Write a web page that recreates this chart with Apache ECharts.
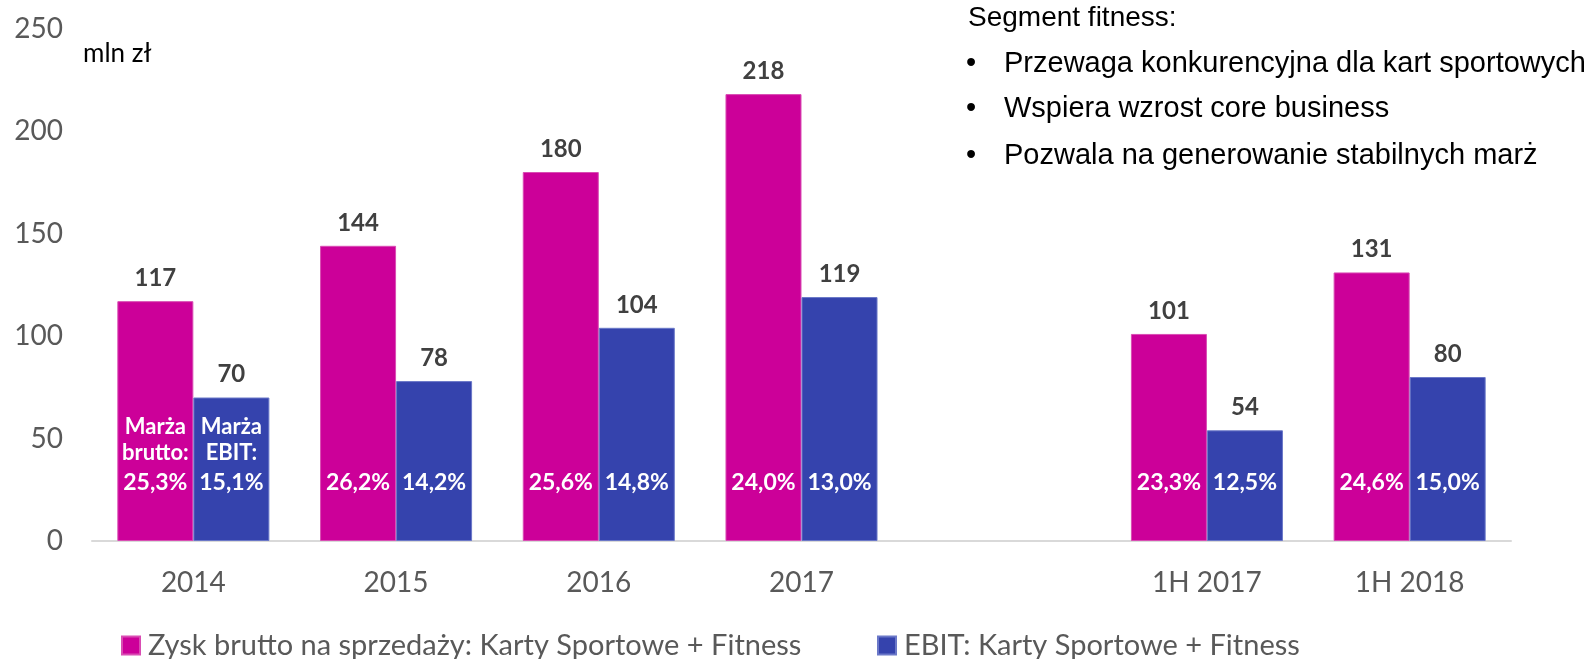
<!DOCTYPE html>
<html>
<head>
<meta charset="utf-8">
<script src="https://cdn.jsdelivr.net/npm/echarts@6/dist/echarts.min.js"></script>
<style>
html, body { margin: 0; padding: 0; background: #fff; }
#main { width: 1596px; height: 659px; }
</style>
</head>
<body>
<div id="main"></div>
<script>
// pusta kategoria rozdziela lata pełne i półrocza
var categories = ['2014', '2015', '2016', '2017', '', '1H 2017', '1H 2018'];
var grossProfit = [117, 144, 180, 218, '-', 101, 131];
var ebit = [70, 78, 104, 119, '-', 54, 80];
var grossMargin = [25.3, 26.2, 25.6, 24.0, null, 23.3, 24.6];
var ebitMargin = [15.1, 14.2, 14.8, 13.0, null, 12.5, 15.0];
var yTicks = [0, 50, 100, 150, 200, 250];
var notes = ['Przewaga konkurencyjna dla kart sportowych', 'Wspiera wzrost core business', 'Pozwala na generowanie stabilnych marż'];

var NAME_GROSS = 'Zysk brutto na sprzedaży: Karty Sportowe + Fitness';
var NAME_EBIT = 'EBIT: Karty Sportowe + Fitness';
var FONT = 'Lato';

(function () {
    var myChart = echarts.init(document.getElementById('main'));

    function pct(v) {
        return v.toFixed(1).replace('.', ',') + '%';
    }

    var innerRich = {
        s: { fontSize: 22, fontWeight: 'bold', lineHeight: 26, color: '#fff', fontFamily: FONT },
        b: { fontSize: 23, fontWeight: 'bold', lineHeight: 34, color: '#fff', fontFamily: FONT }
    };

    function barSeries(name, stack, values, margins, color, border, firstTitle) {
        return {
            name: name,
            type: 'bar',
            stack: stack,
            barGap: 0,
            barCategoryGap: '25%',
            data: values,
            itemStyle: { color: color, borderColor: border, borderWidth: 1 },
            label: {
                show: true,
                position: 'insideBottom',
                distance: 41,
                rich: innerRich,
                formatter: function (p) {
                    var s = '{b|' + pct(margins[p.dataIndex]) + '}';
                    if (p.dataIndex === 0) {
                        s = '{s|Marża}\n{s|' + firstTitle + '}\n' + s;
                    }
                    return s;
                }
            },
            emphasis: { disabled: true }
        };
    }

    // zerowy słupek na szczycie stosu niesie etykietę z wartością
    function topSeries(stack, values) {
        return {
            name: 'top-' + stack,
            type: 'bar',
            stack: stack,
            barGap: 0,
            barCategoryGap: '25%',
            data: values.map(function (v) { return v === '-' ? '-' : 0; }),
            itemStyle: { color: 'transparent' },
            label: {
                show: true,
                position: 'top',
                distance: 11,
                fontSize: 24,
                fontWeight: 'bold',
                color: '#404040',
                fontFamily: FONT,
                formatter: function (p) { return values[p.dataIndex]; }
            },
            emphasis: { disabled: true }
        };
    }

    var graphics = [
        { type: 'text', left: 83, top: 41, style: { text: 'mln zł', fontSize: 26, fontFamily: FONT, fill: '#000' } },
        { type: 'text', left: 968, top: 4, style: { text: 'Segment fitness:', fontSize: 28, fontFamily: 'Liberation Sans', fill: '#000' } }
    ];
    var noteY = [63, 108, 155];
    notes.forEach(function (t, i) {
        graphics.push({ type: 'text', left: 966, top: noteY[i] - 14, style: { text: '•', fontSize: 29, fontFamily: 'Liberation Sans', fill: '#000' } });
        graphics.push({ type: 'text', left: 1004, top: noteY[i] - 14, style: { text: t, fontSize: 29, fontFamily: 'Liberation Sans', fill: '#000' } });
    });

    var legendText = { color: '#595959', fontSize: 29, fontFamily: FONT, padding: [0, 0, 0, 3] };

    var option = {
        animation: false,
        backgroundColor: '#fff',
        grid: { left: 92, top: 28.5, width: 1419, height: 512.5 },
        xAxis: {
            type: 'category',
            data: categories,
            axisTick: { show: false },
            axisLine: { lineStyle: { color: '#d9d9d9', width: 2 } },
            axisLabel: { color: '#595959', fontSize: 28, fontFamily: FONT, margin: 28 }
        },
        yAxis: {
            type: 'value',
            min: yTicks[0],
            max: yTicks[yTicks.length - 1],
            interval: yTicks[1] - yTicks[0],
            splitLine: { show: false },
            axisLine: { show: false },
            axisTick: { show: false },
            axisLabel: { color: '#595959', fontSize: 28, fontFamily: FONT, margin: 29 }
        },
        legend: [
            { data: [NAME_GROSS], left: 116, top: 626, icon: 'rect', itemWidth: 18, itemHeight: 18, textStyle: legendText, selectedMode: false },
            { data: [NAME_EBIT], left: 872, top: 626, icon: 'rect', itemWidth: 18, itemHeight: 18, textStyle: legendText, selectedMode: false }
        ],
        series: [
            barSeries(NAME_GROSS, 'g', grossProfit, grossMargin, '#cc0099', '#d94db3', 'brutto:'),
            topSeries('g', grossProfit),
            barSeries(NAME_EBIT, 'e', ebit, ebitMargin, '#3543ad', '#6b78c8', 'EBIT:'),
            topSeries('e', ebit)
        ],
        graphic: graphics
    };

    myChart.setOption(option);
})();
</script>
</body>
</html>
